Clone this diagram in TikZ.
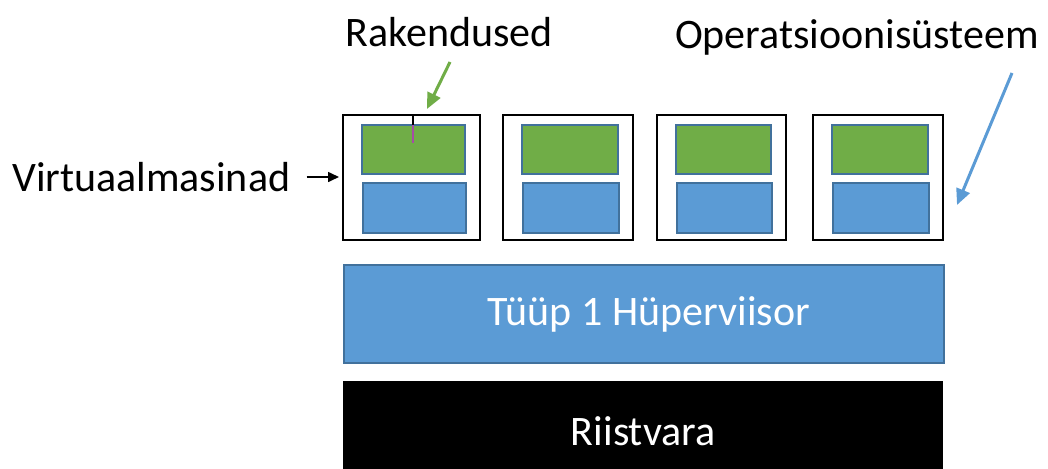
\documentclass[tikz,border=0pt]{standalone}
\usepackage{fontspec}
\setmainfont{Carlito}
\usetikzlibrary{arrows.meta}
\definecolor{appgreen}{HTML}{70AD47}
\definecolor{osblue}{HTML}{5B9BD5}
\definecolor{edgeblue}{HTML}{41719C}
\tikzset{
  lbl/.style={font=\fontsize{42}{50}\selectfont, inner sep=0pt},
  vmbox/.style={draw=black, line width=2.6pt, fill=white},
  appbox/.style={draw=edgeblue, line width=2pt, fill=appgreen},
  osbox/.style={draw=edgeblue, line width=2pt, fill=osblue},
  pointer/.style={line width=3pt, -{Triangle[length=16pt,width=14pt]}}
}
\begin{document}
\begin{tikzpicture}[x=1pt,y=-1pt]
\useasboundingbox (0,0) rectangle (1048,468);

% virtual machines: each an application layer over an OS layer
\foreach \i/\l/\r in {1/343/480, 2/503/633, 3/657/786, 4/813/943} {
  \draw[vmbox] (\l,115) rectangle (\r,240);
  \coordinate (vm\i-l) at (\l,177);
  \draw[appbox] (\l+19,125) rectangle (\r-15,174);
  \draw[osbox] (\l+20,183) rectangle (\r-14,233);
}
\draw[line width=1.2pt, black] (413,115) -- (413,125);
\draw[line width=1.2pt, violet!70] (413,125) -- (413,143);

% hypervisor and hardware
\node[draw=edgeblue, line width=2pt, fill=osblue, minimum width=600pt, minimum height=98pt, inner sep=0pt, anchor=north west] (hyp) at (343,264) {};
\node[lbl, text=white] at ([xshift=5pt]hyp.center) {Tüüp 1 Hüperviisor};
\node[fill=black, minimum width=600pt, minimum height=90pt, inner sep=0pt, anchor=north west] (hw) at (343,381) {};
\node[lbl, text=white] at ([yshift=-5pt]hw.center) {Riistvara};

% labels and pointers
\node[lbl] (apps) at (449,32) {Rakendused};
\node[lbl] (os) at (857,37) {Operatsioonisüsteem};
\node[lbl, anchor=west] (vms) at (12,177) {Virtuaalmasinad};

\coordinate (gs) at (450,62);
\coordinate (gt) at (427,109);
\draw[pointer, draw=appgreen, fill=appgreen] (gs) -- (gt);
\coordinate (bs) at (1012,73);
\coordinate (bt) at (957,205);
\draw[pointer, draw=osblue, fill=osblue] (bs) -- (bt);
\draw[line width=1.6pt, -{Triangle[length=11pt,width=10pt]}] ([xshift=16pt]vms.east) -- ([xshift=-4pt]vm1-l);
\end{tikzpicture}
\end{document}
